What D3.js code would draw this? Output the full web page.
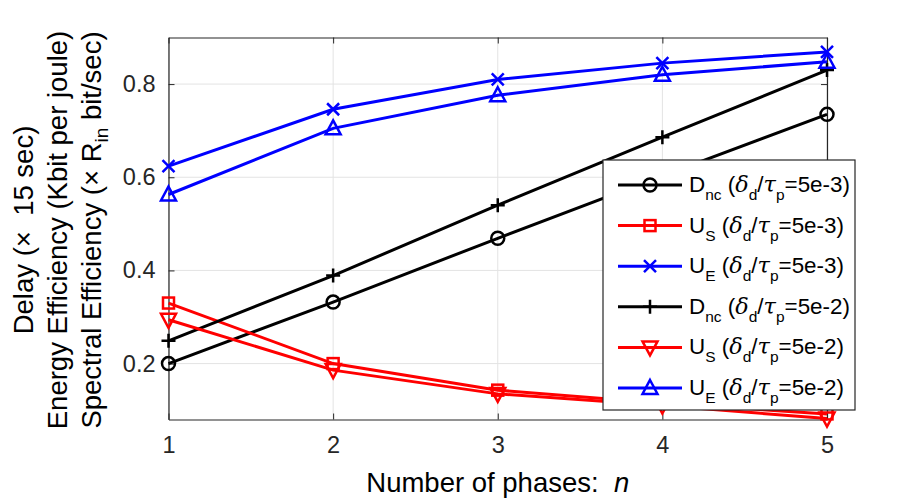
<!DOCTYPE html>
<html><head><meta charset="utf-8">
<script src="https://cdn.jsdelivr.net/npm/d3@7"></script>
<style>body{margin:0;background:#fff;} text{font-family:"Liberation Sans",Arial,sans-serif;}</style>
</head><body><svg id="c" width="913" height="499"></svg>
<script>
const phases = [1, 2, 3, 4, 5];
const xTicks = [1, 2, 3, 4, 5];
const yTicks = [0.2, 0.4, 0.6, 0.8];
const yDomain = [0.08, 0.9];
const dnc_a = [0.200, 0.332, 0.469, 0.603, 0.735];
const us_a  = [0.330, 0.200, 0.143, 0.115, 0.092];
const ue_a  = [0.624, 0.746, 0.810, 0.845, 0.869];
const dnc_b = [0.249, 0.389, 0.540, 0.686, 0.830];
const us_b  = [0.294, 0.186, 0.135, 0.110, 0.082];
const ue_b  = [0.563, 0.705, 0.776, 0.820, 0.848];
const seriesNames = [
  {main:"D", sub:"nc", ratio:"5e-3"},
  {main:"U", sub:"S", ratio:"5e-3"},
  {main:"U", sub:"E", ratio:"5e-3"},
  {main:"D", sub:"nc", ratio:"5e-2"},
  {main:"U", sub:"S", ratio:"5e-2"},
  {main:"U", sub:"E", ratio:"5e-2"}
];
const seriesValues = [dnc_a, us_a, ue_a, dnc_b, us_b, ue_b];
const seriesColors = ["#000000", "#ff0000", "#0000ff", "#000000", "#ff0000", "#0000ff"];
const seriesMarkers = ["circle", "square", "x", "plus", "tridown", "triup"];

const svg = d3.select("#c");
const L = 168.5, R = 827, T = 37.5, B = 419.5;
const x = d3.scaleLinear().domain([1, 5]).range([L, R]);
const y = d3.scaleLinear().domain(yDomain).range([B, T]);

// grid
const g = svg.append("g");
g.selectAll(".gx").data(xTicks).join("line")
  .attr("x1", d => x(d)).attr("x2", d => x(d)).attr("y1", T).attr("y2", B)
  .attr("stroke", "#e3e3e3").attr("stroke-width", 1);
g.selectAll(".gy").data(yTicks).join("line")
  .attr("x1", L).attr("x2", R).attr("y1", d => y(d)).attr("y2", d => y(d))
  .attr("stroke", "#e3e3e3").attr("stroke-width", 1);

// axes
const axCol = "#262626";
const xAxis = svg.append("g").attr("transform", `translate(0,${B})`)
  .call(d3.axisBottom(x).tickValues(xTicks).tickFormat(d3.format("d")).tickSizeInner(-6).tickSizeOuter(0).tickPadding(17));
const xAxisTop = svg.append("g").attr("transform", `translate(0,${T})`)
  .call(d3.axisTop(x).tickValues(xTicks).tickSizeInner(-6).tickSizeOuter(0).tickFormat(""));
const yAxis = svg.append("g").attr("transform", `translate(${L},0)`)
  .call(d3.axisLeft(y).tickValues(yTicks).tickFormat(d3.format(".1f")).tickSizeInner(-6).tickSizeOuter(0).tickPadding(13));
const yAxisR = svg.append("g").attr("transform", `translate(${R},0)`)
  .call(d3.axisRight(y).tickValues(yTicks).tickSizeInner(-6).tickSizeOuter(0).tickFormat(""));
[xAxis, xAxisTop, yAxis, yAxisR].forEach(a => {
  a.select(".domain").attr("stroke", axCol).attr("stroke-width", 1.2);
  a.selectAll(".tick line").attr("stroke", axCol).attr("stroke-width", 1);
  a.selectAll("text").attr("fill", axCol).style("font-size", "23.5px").style("font-family", '"Liberation Sans",Arial,sans-serif');
});
xAxis.selectAll("text").attr("dy", "0.71em");

// marker drawing
function drawMarker(sel, type, color) {
  sel.each(function() {
    const m = d3.select(this);
    if (type === "circle") m.append("circle").attr("r", 6.5);
    else if (type === "square") m.append("rect").attr("x", -5.5).attr("y", -5.5).attr("width", 11).attr("height", 11);
    else if (type === "x") m.append("path").attr("d", "M-6,-6L6,6M-6,6L6,-6");
    else if (type === "plus") m.append("path").attr("d", "M-7,0L7,0M0,-7L0,7");
    else if (type === "triup") m.append("path").attr("d", "M0,-8L7.5,6L-7.5,6Z");
    else if (type === "tridown") m.append("path").attr("d", "M0,8L7.5,-6L-7.5,-6Z");
  });
  sel.selectAll("*").attr("fill", "none").attr("stroke", color).attr("stroke-width", 2.5);
}

const line = d3.line().x((d, i) => x(phases[i])).y(d => y(d));
seriesValues.forEach((vals, si) => {
  const sg = svg.append("g");
  sg.append("path").datum(vals).attr("d", line)
    .attr("fill", "none").attr("stroke", seriesColors[si]).attr("stroke-width", 3);
  const mk = sg.selectAll("g.m").data(vals).join("g")
    .attr("transform", (d, i) => `translate(${x(phases[i])},${y(d)})`);
  drawMarker(mk, seriesMarkers[si], seriesColors[si]);
});

// legend
const lg = svg.append("g");
const LX = 603, LY = 160, LW = 252, LH = 250;
lg.append("rect").attr("x", LX).attr("y", LY).attr("width", LW).attr("height", LH)
  .attr("fill", "#fff").attr("stroke", axCol).attr("stroke-width", 1.2);
seriesNames.forEach((s, i) => {
  const cy = LY + 25 + i * 40.6;
  lg.append("line").attr("x1", LX + 15).attr("x2", LX + 79).attr("y1", cy).attr("y2", cy)
    .attr("stroke", seriesColors[i]).attr("stroke-width", 3);
  const mk = lg.append("g").attr("transform", `translate(${LX + 47},${cy})`);
  drawMarker(mk, seriesMarkers[i], seriesColors[i]);
  const t = lg.append("text").attr("x", LX + 86).attr("y", cy + 7).attr("fill", "#000").style("font-size", "22.4px");
  t.append("tspan").text(s.main);
  t.append("tspan").attr("dy", 8).style("font-size", "15.5px").text(s.sub);
  t.append("tspan").attr("dy", -8).text(" (");
  t.append("tspan").style("font-style", "italic").style("font-family", '"DejaVu Serif",serif').text("δ");
  t.append("tspan").attr("dy", 8).style("font-size", "15.5px").text("d");
  t.append("tspan").attr("dy", -8).text("/");
  t.append("tspan").style("font-style", "italic").style("font-family", '"DejaVu Serif",serif').text("τ");
  t.append("tspan").attr("dy", 8).style("font-size", "15.5px").text("p");
  t.append("tspan").attr("dy", -8).text("=" + s.ratio + ")");
});

// x label
const xl = svg.append("text").attr("x", (L + R) / 2).attr("y", 492).attr("text-anchor", "middle")
  .attr("fill", "#000").style("font-size", "27.5px")
  .attr("xml:space", "preserve").style("white-space", "pre");
xl.append("tspan").text("Number of phases:  ");
xl.append("tspan").style("font-style", "italic").text("n");

// y label (three lines)
const yc = 230;
const ylab = [
  {x: 33, parts: [["Delay (×  15 sec)", 0, null]]},
  {x: 67, parts: [["Energy Efficiency (Kbit per joule)", 0, null]]},
  {x: 101, parts: [["Spectral Efficiency (× R", 0, null], ["in", 7, "19px"], [" bit/sec)", -7, null]]}
];
ylab.forEach(l => {
  const t = svg.append("text").attr("transform", `translate(${l.x},${yc}) rotate(-90)`)
    .attr("text-anchor", "middle").attr("fill", "#000").style("font-size", "27.5px")
    .attr("xml:space", "preserve").style("white-space", "pre");
  l.parts.forEach(p => {
    const ts = t.append("tspan").text(p[0]);
    if (p[1]) ts.attr("dy", p[1]);
    if (p[2]) ts.style("font-size", p[2]);
  });
});
</script></body></html>
